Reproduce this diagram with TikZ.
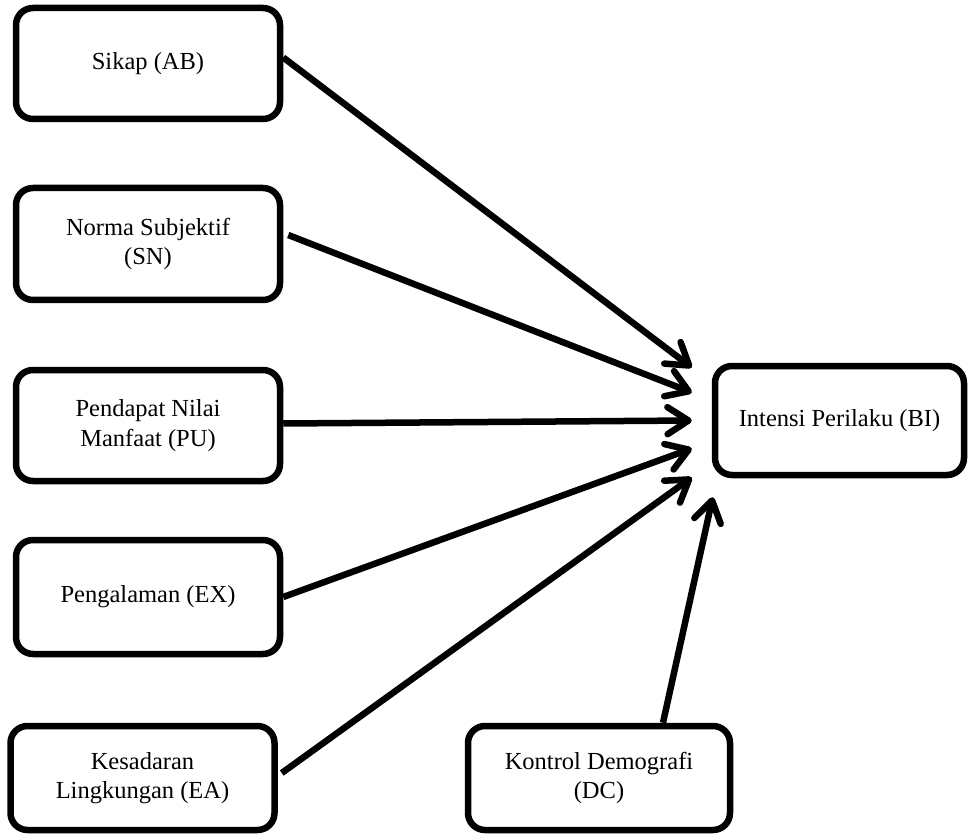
\documentclass[tikz,border=0pt]{standalone}
\usepackage{fontspec}
\setmainfont{Liberation Serif}
\usetikzlibrary{arrows.meta}
\begin{document}
\begin{tikzpicture}[x=1pt,y=-1pt,
  box/.style={draw, line width=6.5pt, rounded corners=17pt, inner sep=0pt,
    align=center, font=\fontsize{24.5}{29.5}\selectfont},
  lbox/.style={box, minimum width=264pt, minimum height=111pt},
  conn/.style={line width=6.5pt, -{Straight Barb[length=21pt,width=27pt,line cap=round,line join=round]}}]
\useasboundingbox (0,0) rectangle (970,837);
\node[lbox] (ab) at (148,63.5) {Sikap (AB)};
\node[lbox, minimum height=112pt] (sn) at (148,244) {Norma Subjektif\\(SN)};
\node[lbox] (pu) at (148,425.5) {Pendapat Nilai\\Manfaat (PU)};
\node[lbox, minimum height=114pt] (ex) at (148,597) {Pengalaman (EX)};
\node[lbox, minimum height=104pt] (ea) at (142.5,778) {Kesadaran\\Lingkungan (EA)};
\node[lbox, minimum width=262pt, minimum height=104pt] (dc) at (599,778) {Kontrol Demografi\\(DC)};
\node[box, minimum width=249pt, minimum height=109pt] (bi) at (839.5,420.5) {Intensi Perilaku (BI)};
\draw[conn] ([yshift=6pt]ab.east) -- ([xshift=-20pt,yshift=53pt]bi.west);
\draw[conn] ([xshift=5pt,yshift=9pt]sn.east) -- ([xshift=-20pt,yshift=28pt]bi.west);
\draw[conn] ([yshift=2pt]pu.east) -- ([xshift=-20pt]bi.west);
\draw[conn] (ex.east) -- ([xshift=-20pt,yshift=-28pt]bi.west);
\draw[conn] ([xshift=4pt,yshift=5pt]ea.east) -- ([xshift=-20pt,yshift=-57pt]bi.west);
\draw[conn] ([xshift=64pt]dc.north) -- ([xshift=1pt,yshift=-19pt]bi.south west);
\end{tikzpicture}
\end{document}
